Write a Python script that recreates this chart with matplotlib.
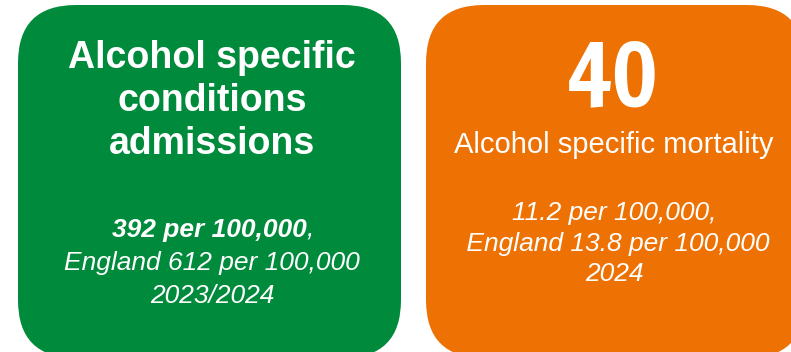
import matplotlib
matplotlib.use('Agg')
import matplotlib.pyplot as plt
from matplotlib.patches import FancyBboxPatch

# card contents
admissions_title = ['Alcohol specific', 'conditions', 'admissions']
admissions_rate = '392 per 100,000'
admissions_lines = ['England 612 per 100,000', '2023/2024']
mortality_count = 40
mortality_title = 'Alcohol specific mortality'
mortality_lines = ['11.2 per 100,000,', ' England 13.8 per 100,000', '2024']

green = '#008a3b'
orange = '#ed7103'
W, H = 791, 352

plt.rcParams['font.family'] = ['Liberation Sans', 'DejaVu Sans']

fig = plt.figure(figsize=(W / 100, H / 100), dpi=100)
ax = fig.add_axes([0, 0, 1, 1])
ax.set_xlim(0, W)
ax.set_ylim(H, 0)
ax.axis('off')

# rounded cards (pixel units)
for x0, x1, col in [(18, 401, green), (426, 805, orange)]:
    ax.add_patch(FancyBboxPatch((x0, 5), x1 - x0, 353,
                                boxstyle='round,pad=0,rounding_size=58',
                                fc=col, ec='none', clip_on=False))

# left card
cx = 212
for i, line in enumerate(admissions_title):
    ax.text(cx, 68 + i * 43, line, ha='center', va='baseline',
            fontsize=27, fontweight='bold', color='white')

ax.text(307, 237, admissions_rate, ha='right', va='baseline', fontsize=19,
        fontweight='bold', fontstyle='italic', color='white')
ax.text(307, 237, ',', ha='left', va='baseline', fontsize=19,
        fontstyle='italic', color='white')
for i, line in enumerate(admissions_lines):
    ax.text(cx, 270 + i * 33, line, ha='center', va='baseline',
            fontsize=19, fontstyle='italic', color='white')

# right card
rx = 614
ax.text(rx - 1, 105, str(mortality_count), ha='center', va='baseline',
        fontsize=62, color='white',
        family=['Francois One', 'Anton', 'DejaVu Sans'])
ax.text(rx, 153, mortality_title, ha='center', va='baseline',
        fontsize=21, color='white')
for i, line in enumerate(mortality_lines):
    ax.text(rx, 220 + i * 30.5, line, ha='center', va='baseline',
            fontsize=19, fontstyle='italic', color='white')

fig.savefig('out.png', dpi=100)
